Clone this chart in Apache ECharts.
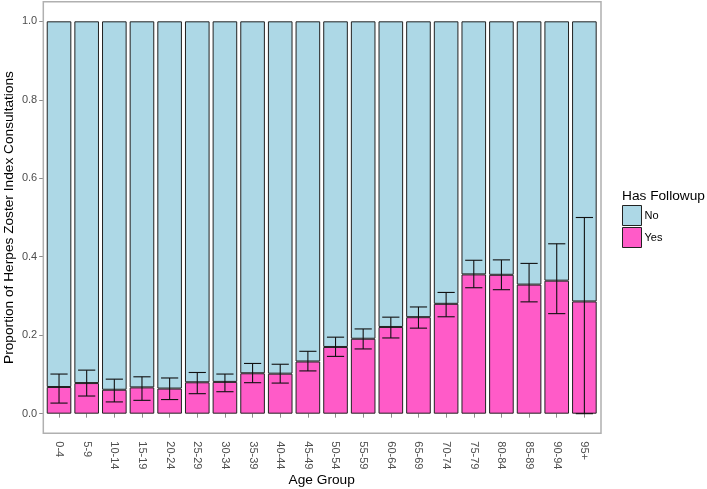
<!DOCTYPE html>
<html>
<head>
<meta charset="utf-8">
<script src="https://cdn.jsdelivr.net/npm/echarts@6/dist/echarts.min.js"></script>
<style>
  html, body { margin: 0; padding: 0; background: #fff; }
  #chart { width: 707px; height: 489px; }
</style>
</head>
<body>
<div id="chart"></div>
<script>
// age groups and share of consultations with a followup
const ageGroups = ['0-4', '5-9', '10-14', '15-19', '20-24', '25-29', '30-34', '35-39', '40-44', '45-49',
    '50-54', '55-59', '60-64', '65-69', '70-74', '75-79', '80-84', '85-89', '90-94', '95+']
const yesShare = [0.068, 0.078, 0.061, 0.067, 0.064, 0.080, 0.081, 0.103, 0.102, 0.133,
    0.170, 0.191, 0.221, 0.246, 0.280, 0.355, 0.354, 0.329, 0.339, 0.286]
const ciLow = [0.027, 0.045, 0.030, 0.034, 0.036, 0.051, 0.056, 0.079, 0.078, 0.109,
    0.146, 0.165, 0.193, 0.218, 0.247, 0.321, 0.316, 0.285, 0.255, 0.0]
const ciHigh = [0.101, 0.111, 0.088, 0.094, 0.091, 0.105, 0.101, 0.128, 0.126, 0.159,
    0.195, 0.216, 0.246, 0.272, 0.309, 0.391, 0.392, 0.383, 0.433, 0.500]
const yTicks = [0, 0.2, 0.4, 0.6, 0.8, 1.0]

const colorNo = '#ADD8E6'
const colorYes = '#FF5BC8'

// the "No" part fills each bar up to 1
const noShare = yesShare.map(v => +(1 - v).toFixed(3))
const errData = ageGroups.map((g, i) => [i, ciLow[i], ciHigh[i]])

const chart = echarts.init(document.getElementById('chart'))

const option = {
    animation: false,
    textStyle: { fontFamily: 'Liberation Sans, Arial, sans-serif' },
    grid: { left: 45.2, width: 553, top: 1.7, bottom: 55.7, containLabel: false, outerBoundsMode: 'none' },
    title: {
        text: 'Has Followup',
        left: 622,
        top: 189,
        padding: 0,
        textStyle: { fontSize: 13.7, fontWeight: 'normal', color: '#000' }
    },
    legend: {
        data: ['No', 'Yes'],
        orient: 'vertical',
        left: 622,
        top: 205,
        padding: 0,
        itemWidth: 19,
        itemHeight: 20,
        itemGap: 1,
        icon: 'rect',
        itemStyle: { borderColor: '#222', borderWidth: 1 },
        textStyle: { fontSize: 11, color: '#000', padding: [0, 0, 0, -2] }
    },
    xAxis: {
        type: 'category',
        data: ageGroups,
        name: 'Age Group',
        nameLocation: 'middle',
        nameGap: 40,
        nameMoveOverlap: false,
        nameTextStyle: { fontSize: 13.7, color: '#000' },
        axisLine: { show: false },
        axisTick: { show: true, alignWithLabel: true, length: 4, lineStyle: { color: '#8c8c8c' } },
        axisLabel: { rotate: -90, fontSize: 11, color: '#4d4d4d', margin: 8, interval: 0 },
        splitLine: { show: false }
    },
    yAxis: {
        type: 'value',
        min: -0.05,
        max: 1.05,
        offset: 2,
        name: 'Proportion of Herpes Zoster Index Consultations',
        nameLocation: 'middle',
        nameGap: 27,
        nameMoveOverlap: false,
        nameTextStyle: { fontSize: 13.7, color: '#000' },
        axisLine: { show: false },
        axisTick: { show: true, length: 4, customValues: yTicks, lineStyle: { color: '#8c8c8c' } },
        axisLabel: { fontSize: 11, color: '#4d4d4d', margin: 6, customValues: yTicks,
            formatter: v => v.toFixed(1) },
        splitLine: { show: false }
    },
    graphic: [{
        type: 'rect',
        shape: { x: 43.3, y: 1.7, width: 557.7, height: 431.6 },
        style: { fill: null, stroke: '#b0b0b0', lineWidth: 1.5 },
        silent: true,
        z: 10
    }],
    series: [
        {
            name: 'Yes',
            type: 'bar',
            stack: 'share',
            barWidth: '89%',
            data: yesShare,
            itemStyle: { color: colorYes, borderColor: '#222', borderWidth: 1 }
        },
        {
            name: 'No',
            type: 'bar',
            stack: 'share',
            barWidth: '89%',
            data: noShare,
            itemStyle: { color: colorNo, borderColor: '#222', borderWidth: 1 }
        },
        {
            name: 'ci',
            type: 'custom',
            z: 5,
            data: errData,
            renderItem: function (params, api) {
                const lo = api.coord([api.value(0), api.value(1)])
                const hi = api.coord([api.value(0), api.value(2)])
                const half = 8.6
                const style = { stroke: '#111', lineWidth: 1.1 }
                return {
                    type: 'group',
                    children: [
                        { type: 'line', shape: { x1: lo[0], y1: lo[1], x2: hi[0], y2: hi[1] }, style: style },
                        { type: 'line', shape: { x1: hi[0] - half, y1: hi[1], x2: hi[0] + half, y2: hi[1] }, style: style },
                        { type: 'line', shape: { x1: lo[0] - half, y1: lo[1], x2: lo[0] + half, y2: lo[1] }, style: style }
                    ]
                }
            }
        }
    ]
}

chart.setOption(option)
</script>
</body>
</html>
